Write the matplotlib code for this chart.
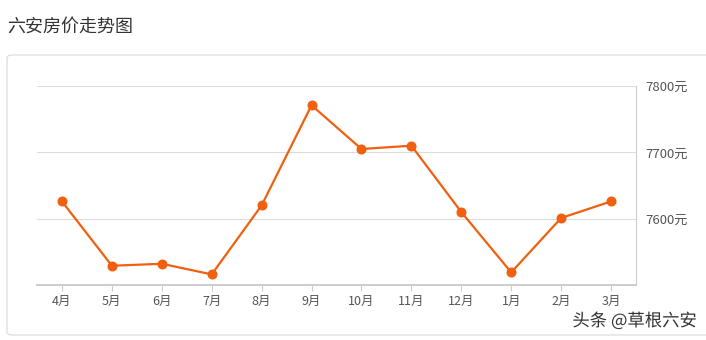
import matplotlib
matplotlib.use("Agg")
import matplotlib.pyplot as plt
from matplotlib.patches import FancyBboxPatch
import matplotlib.patheffects as pe

plt.rcParams['font.family'] = ['Noto Sans CJK SC', 'DejaVu Sans']

# data
months = ["4月", "5月", "6月", "7月", "8月", "9月", "10月", "11月", "12月", "1月", "2月", "3月"]
prices = [7626, 7529, 7532, 7516, 7620, 7771, 7705, 7710, 7610, 7519, 7601, 7626]
ytick_vals = [7600, 7700, 7800]
ytick_labels = ["7600元", "7700元", "7800元"]

W, H = 706, 340
fig = plt.figure(figsize=(W / 100, H / 100), dpi=100)

# outer rounded box, kept behind the axes
box = FancyBboxPatch((7 / W, 5 / H), 720 / W, 280 / H,
                     boxstyle="round,pad=0,rounding_size=0.008",
                     transform=fig.transFigure, facecolor="white",
                     edgecolor="#d9d9d9", linewidth=0.8, zorder=-5)
fig.patches.append(box)

fig.text(7 / W, 1 - 27 / H, "六安房价走势图", fontsize=13, color="#333333",
         va="center", ha="left")

ax = fig.add_axes([37 / W, 55 / H, 599 / W, 199 / H], zorder=2)
ax.set_facecolor("none")
x = list(range(len(months)))
ax.plot(x, prices, color="#f0600f", linewidth=1.6, marker="o",
        markersize=6.2, zorder=3)

ax.set_xlim(-0.5, len(months) - 0.5)
ax.set_ylim(7500, 7800)

for v in ytick_vals:
    ax.axhline(v, color="#dcdcdc", linewidth=0.8, zorder=1)

for s in ["top", "left"]:
    ax.spines[s].set_visible(False)
ax.spines["bottom"].set_color("#cccccc")
ax.spines["bottom"].set_linewidth(1.4)
ax.spines["right"].set_color("#cccccc")
ax.spines["right"].set_linewidth(0.8)

ax.set_xticks(x)
ax.set_xticklabels(months, fontsize=9, color="#555555")
ax.tick_params(axis="x", length=4, color="#cccccc", pad=3)

ax.yaxis.tick_right()
ax.set_yticks(ytick_vals)
ax.set_yticklabels(ytick_labels, fontsize=9.5, color="#555555")
ax.tick_params(axis="y", length=0, pad=7)

fig.text(697 / W, 1 - 321 / H, "头条 @草根六安", fontsize=12.5, color="#333333",
         ha="right", va="center", zorder=5,
         path_effects=[pe.withStroke(linewidth=2.5, foreground="white")])

fig.savefig("out.png", dpi=100)
